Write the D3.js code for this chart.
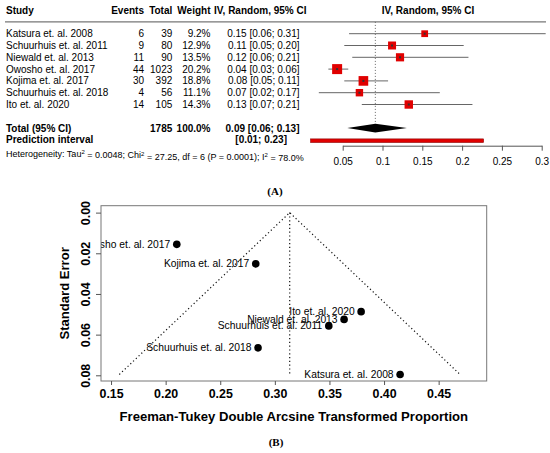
<!DOCTYPE html>
<html>
<head>
<meta charset="utf-8">
<script src="https://cdn.jsdelivr.net/npm/d3@7"></script>
<style>
  body { margin: 0; background: #fff; }
  svg { display: block; font-family: "Liberation Sans", Arial, Helvetica, sans-serif; }
</style>
</head>
<body>
<svg width="550" height="453"></svg>
<script>
// forest plot data
const studies = ["Katsura et. al. 2008", "Schuurhuis et. al. 2011", "Niewald et. al. 2013",
  "Owosho et. al. 2017", "Kojima et. al. 2017", "Schuurhuis et. al. 2018", "Ito et. al. 2020"];
const events = [6, 9, 11, 44, 30, 4, 14];
const totals = [39, 80, 90, 1023, 392, 56, 105];
const weights = [9.2, 12.9, 13.5, 20.2, 18.8, 11.1, 14.3];
const estimates = [0.153, 0.112, 0.122, 0.043, 0.076, 0.071, 0.133];
const lowers = [0.058, 0.052, 0.062, 0.032, 0.052, 0.020, 0.074];
const uppers = [0.305, 0.202, 0.208, 0.057, 0.107, 0.172, 0.213];
const ciLabels = ["0.15 [0.06; 0.31]", "0.11 [0.05; 0.20]", "0.12 [0.06; 0.21]",
  "0.04 [0.03; 0.06]", "0.08 [0.05; 0.11]", "0.07 [0.02; 0.17]", "0.13 [0.07; 0.21]"];
const pooled = [0.0558, 0.091, 0.1306];   // lower, estimate, upper
const predInterval = [0.0097, 0.227];
const forestTicks = [0.05, 0.1, 0.15, 0.2, 0.25, 0.3];

// funnel plot data
const ftEstimates = [0.4147, 0.3494, 0.3634, 0.2102, 0.2825, 0.2846, 0.379];
const ftSE = [0.0796, 0.0557, 0.0525, 0.0156, 0.0252, 0.0665, 0.0487];
const ftCenter = 0.3136;
const funnelXTicks = [0.15, 0.2, 0.25, 0.3, 0.35, 0.4, 0.45];
const funnelYTicks = [0, 0.02, 0.04, 0.06, 0.08];

const svg = d3.select("svg");

// ---------- (A) forest plot ----------
const fx = d3.scaleLinear().domain([0.05, 0.3]).range([342.7, 541.7]);
const row = d3.scaleLinear().domain([0, 1]).range([33.7, 45.5]);
const boxSize = d3.scaleSqrt().domain([0, 20.2]).range([0, 10]);

const A = svg.append("g").attr("font-size", 10);

// header
const head = A.append("g").attr("font-weight", "bold");
head.append("text").attr("x", 6).attr("y", row(-2)).attr("dy", "0.35em").text("Study");
[["Events", 144], ["Total", 172.3], ["Weight", 210.5], ["IV, Random, 95% CI", 306.5]].forEach(([t, x]) => {
  head.append("text").attr("x", x).attr("y", row(-2)).attr("dy", "0.35em")
    .attr("text-anchor", "end").text(t);
});
head.append("text").attr("x", 428).attr("y", row(-2)).attr("dy", "0.35em")
  .attr("text-anchor", "middle").text("IV, Random, 95% CI");
A.append("line").attr("x1", 5).attr("x2", 546).attr("y1", row(-1)).attr("y2", row(-1))
  .attr("stroke", "#777").attr("stroke-width", 1.3);

// dotted pooled line
A.append("line").attr("x1", fx(pooled[1])).attr("x2", fx(pooled[1]))
  .attr("y1", row(-1)).attr("y2", 132)
  .attr("stroke", "#666").attr("stroke-dasharray", "1,2");

const rows = A.selectAll("g.row").data(studies).enter().append("g").attr("class", "row")
  .attr("transform", (d, i) => `translate(0,${row(i)})`);
rows.append("text").attr("x", 6).attr("dy", "0.35em").text(d => d);
rows.append("text").attr("x", 144).attr("dy", "0.35em").attr("text-anchor", "end").text((d, i) => events[i]);
rows.append("text").attr("x", 172.3).attr("dy", "0.35em").attr("text-anchor", "end").text((d, i) => totals[i]);
rows.append("text").attr("x", 210.5).attr("dy", "0.35em").attr("text-anchor", "end").text((d, i) => weights[i].toFixed(1) + "%");
rows.append("text").attr("x", 299.5).attr("dy", "0.35em").attr("text-anchor", "end").text((d, i) => ciLabels[i]);
rows.append("line")
  .attr("x1", (d, i) => fx(lowers[i])).attr("x2", (d, i) => Math.min(fx(uppers[i]), 546))
  .attr("stroke", "#666").attr("stroke-width", 1);
rows.append("rect")
  .attr("x", (d, i) => fx(estimates[i]) - boxSize(weights[i]) / 2)
  .attr("y", (d, i) => -boxSize(weights[i]) / 2)
  .attr("width", (d, i) => boxSize(weights[i]))
  .attr("height", (d, i) => boxSize(weights[i]))
  .attr("fill", "#e00000");
rows.append("rect")
  .attr("x", (d, i) => fx(estimates[i]) - 1).attr("y", -1)
  .attr("width", 2).attr("height", 2).attr("fill", "#333");

// total + prediction rows
const tot = A.append("g").attr("font-weight", "bold");
tot.append("text").attr("x", 6).attr("y", row(8)).attr("dy", "0.35em").text("Total (95% CI)");
tot.append("text").attr("x", 172.3).attr("y", row(8)).attr("dy", "0.35em").attr("text-anchor", "end").text(d3.sum(totals));
tot.append("text").attr("x", 210.5).attr("y", row(8)).attr("dy", "0.35em").attr("text-anchor", "end").text("100.0%");
tot.append("text").attr("x", 299.5).attr("y", row(8)).attr("dy", "0.35em").attr("text-anchor", "end").text("0.09 [0.06; 0.13]");
tot.append("text").attr("x", 6).attr("y", row(9)).attr("dy", "0.35em").text("Prediction interval");
tot.append("text").attr("x", 287).attr("y", row(9)).attr("dy", "0.35em").attr("text-anchor", "end").text("[0.01; 0.23]");

A.append("path")
  .attr("d", `M${fx(pooled[0])},${row(8)} L${fx(pooled[1])},${row(8) - 4.3} L${fx(pooled[2])},${row(8)} L${fx(pooled[1])},${row(8) + 4.3} Z`)
  .attr("fill", "#000");
A.append("rect")
  .attr("x", fx(predInterval[0])).attr("width", fx(predInterval[1]) - fx(predInterval[0]))
  .attr("y", row(9) + 0.8 - 1.8).attr("height", 3.6)
  .attr("fill", "#e00000").attr("stroke", "#8a0000").attr("stroke-width", 0.6);

// heterogeneity
const het = A.append("text").attr("x", 6).attr("y", 153.7).attr("dy", "0.35em").attr("font-size", 9);
const sup = t => het.append("tspan").attr("font-size", 6).attr("dy", "-0.45em").text(t);
const norm = t => het.append("tspan").attr("dy", "0.45em").text(t);
het.append("tspan").text("Heterogeneity: Tau");
sup("2"); norm(" = 0.0048; Chi");
sup("2"); norm(" = 27.25, df = 6 (P = 0.0001); I");
sup("2"); norm(" = 78.0%");

// axis
const fAxis = A.append("g").attr("transform", "translate(0,145.7)")
  .call(d3.axisBottom(fx).tickValues(forestTicks).tickFormat(d => String(d)).tickSize(5).tickSizeOuter(0).tickPadding(7));
fAxis.attr("font-size", 10).attr("font-family", null);
fAxis.selectAll("path,line").attr("stroke", "#555");
fAxis.selectAll("text").attr("fill", "#000");

svg.append("text").attr("x", 275).attr("y", 191).attr("dy", "0.35em").attr("text-anchor", "middle")
  .attr("font-family", "'Liberation Serif', 'Times New Roman', serif").attr("font-weight", "bold")
  .attr("font-size", 11).text("(A)");

// ---------- (B) funnel plot ----------
const px = d3.scaleLinear().domain([0.1408, 0.494]).range([101, 486.7]);
const py = d3.scaleLinear().domain([-0.0034, 0.0828]).range([205.7, 381]);
const B = svg.append("g");

B.append("defs").append("clipPath").attr("id", "plotclip").append("rect")
  .attr("x", 101).attr("y", 205.7).attr("width", 385.7).attr("height", 175.3);

const maxSE = d3.max(ftSE);
const funnel = B.append("g").attr("fill", "none").attr("stroke", "#111")
  .attr("stroke-width", 1.2).attr("stroke-dasharray", "1.2,2.6");
funnel.append("path").attr("d", d3.line()([
  [px(ftCenter - 1.96 * maxSE), py(maxSE)], [px(ftCenter), py(0)], [px(ftCenter + 1.96 * maxSE), py(maxSE)]
]));
funnel.append("line").attr("x1", px(ftCenter)).attr("x2", px(ftCenter))
  .attr("y1", py(0)).attr("y2", py(maxSE));

const pts = B.append("g").attr("clip-path", "url(#plotclip)");
pts.selectAll("circle").data(ftEstimates).enter().append("circle")
  .attr("cx", d => px(d)).attr("cy", (d, i) => py(ftSE[i])).attr("r", 3.8).attr("fill", "#000");
pts.selectAll("text").data(ftEstimates).enter().append("text")
  .attr("x", d => px(d) - 6.5).attr("y", (d, i) => py(ftSE[i])).attr("dy", "0.35em")
  .attr("text-anchor", "end").attr("font-size", 10.3).text((d, i) => studies[i]);

B.append("rect").attr("x", 101).attr("y", 205.7).attr("width", 385.7).attr("height", 175.3)
  .attr("fill", "none").attr("stroke", "#777").attr("stroke-width", 1);

const xAx = B.append("g").attr("transform", "translate(0,381)")
  .call(d3.axisBottom(px).tickValues(funnelXTicks).tickFormat(d3.format(".2f")).tickSize(4).tickPadding(4));
xAx.select(".domain").remove();
xAx.attr("font-size", 12.4).attr("font-weight", "bold").attr("font-family", null);
xAx.selectAll("line").attr("stroke", "#555");

const yAx = B.append("g").attr("transform", "translate(101,0)")
  .call(d3.axisLeft(py).tickValues(funnelYTicks).tickFormat(d3.format(".2f")).tickSize(5));
yAx.select(".domain").remove();
yAx.attr("font-size", 12.4).attr("font-weight", "bold").attr("font-family", null);
yAx.selectAll("line").attr("stroke", "#555");
yAx.selectAll("text").attr("x", null).attr("dy", null)
  .attr("transform", "translate(-15.5,0) rotate(-90)").attr("text-anchor", "middle").attr("dy", "0.35em");

B.append("text").attr("x", 293.8).attr("y", 416.7).attr("dy", "0.35em").attr("text-anchor", "middle")
  .attr("font-size", 13.1).attr("font-weight", "bold").text("Freeman-Tukey Double Arcsine Transformed Proportion");
B.append("text").attr("transform", "translate(64,293.4) rotate(-90)").attr("dy", "0.35em")
  .attr("text-anchor", "middle").attr("font-size", 13.1).attr("font-weight", "bold").text("Standard Error");

svg.append("text").attr("x", 276).attr("y", 441.7).attr("dy", "0.35em").attr("text-anchor", "middle")
  .attr("font-family", "'Liberation Serif', 'Times New Roman', serif").attr("font-weight", "bold")
  .attr("font-size", 11).text("(B)");
</script>
</body>
</html>
